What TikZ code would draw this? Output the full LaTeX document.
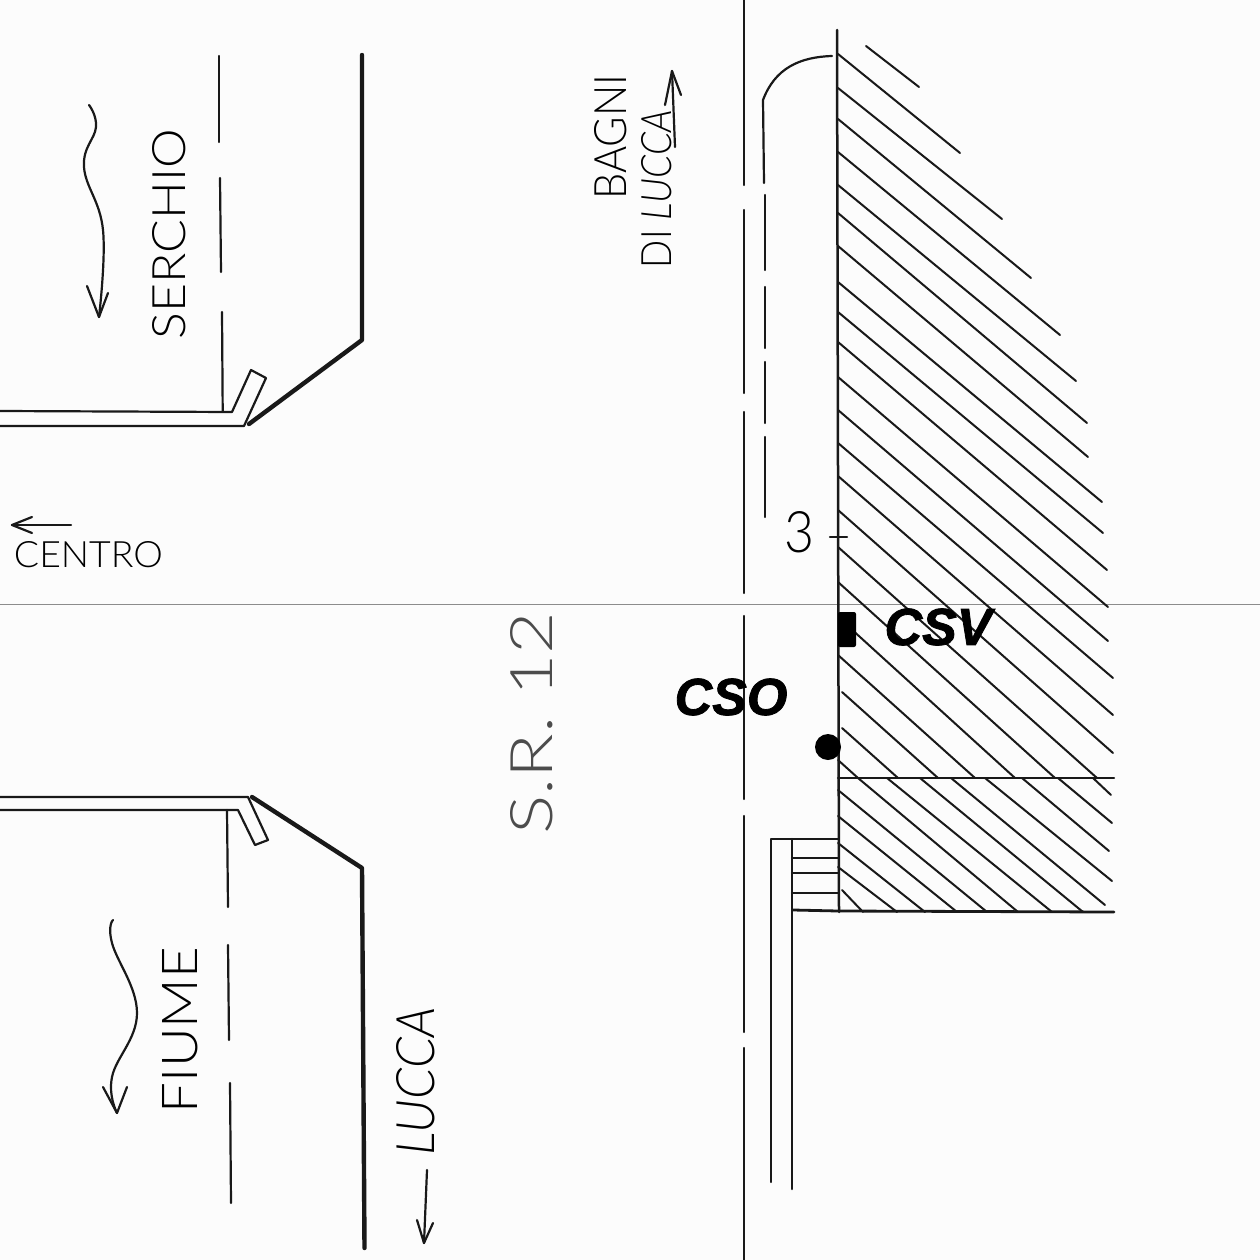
\documentclass[tikz,border=0pt]{standalone}
\usepackage{fontspec}
\usepackage{graphicx}
\setmainfont{Liberation Sans}[BoldItalicFeatures={FakeBold=1.6}]
\newfontfamily\hand{Lato}[UprightFont=* Light,ItalicFont=* Light Italic]
\newcommand{\fitbox}[3]{\resizebox{#1pt}{#2pt}{\fontsize{40}{40}\selectfont\hand #3}}
\tikzset{
  thin ink/.style={line width=2.2pt,black!90,line cap=round,line join=round},
  hatch ink/.style={line width=2pt,black!90,line cap=round},
  thick ink/.style={line width=4.4pt,black!90,line cap=round,line join=round},
  handtext/.style={inner sep=0pt,text=black},
  sensorlabel/.style={inner sep=0pt,font=\fontsize{52}{52}\selectfont\bfseries\itshape,text=black}
}
\begin{document}
\begin{tikzpicture}[x=1pt,y=-1pt]
\useasboundingbox (0,0) rectangle (1260,1260);
\fill[white!99!black] (0,0) rectangle (1260,1260);
% fold line
\draw[line width=0.9pt,black!45] (0,604) -- (1260,604);

% upper hatching
\foreach \ax/\ay/\bx/\by in {
 866/46/919/87, 838/54/960/153, 838/88/1002/219, 838/119/1031/278,
 838/152/1060/335, 838/185/1076/381, 838/213/1087/423, 838/246/1088/457,
 838/282/1102/502, 838/312/1103/533, 838/342/1107/570, 838/377/1108/607,
 838/410/1108/641, 838/443/1113/678, 838/476/1113/715, 838/510/1113/753,
 838/547/1097/778, 838/582/1055/778, 838/617/1015/778, 838/655/975/778,
 842/692/938/778, 842/728/898/778, 838/760/858/778}
  \draw[hatch ink] (\ax,\ay) -- (\bx,\by);
% lower hatching
\foreach \ax/\ay/\bx/\by in {
 858/778/1018/912, 887/778/1052/912, 920/778/1083/912, 951/778/1105/905,
 985/778/1112/881, 1022/778/1109/851, 1058/778/1112/823, 1093/778/1111/795,
 838/790/987/912, 838/816/957/912, 838/843/925/912, 838/867/897/912, 842/890/863/912}
  \draw[hatch ink] (\ax,\ay) -- (\bx,\by);

% building edges
\draw[thin ink,line width=2.5pt] (837,30) -- (839,912);
\draw[thin ink] (838,778) -- (1114,778);
\draw[thin ink,line width=2.8pt] (793,910) -- (838,911) -- (1114,912);

% stairs and side road
\draw[thin ink] (771,1182) -- (771,839) -- (838,839);
\draw[thin ink,line width=2.5pt] (792,1189) -- (792,839);
\foreach \ry in {858,873,893}
  \draw[thin ink] (792,\ry) -- (838,\ry);

% road centre line
\foreach \ya/\yb in {0/185,210/393,412/593,616/799,816/1032,1048/1260}
  \draw[thin ink] (744,\ya) -- (744,\yb);
% road edge, dashed by hand
\draw[thin ink] (832,56) .. controls (800,57) and (775,68) .. (763,100) -- (764,183);
\foreach \ya/\yb in {195/270,287/348,362/423,437/517}
  \draw[thin ink] (765,\ya) -- (765,\yb);

% kilometre mark
\node[handtext] (three) at (799.5,532.5) {\fitbox{30}{41}{3}};
\draw[thin ink] (830,537) -- (847,537);

% sensors
\node[fill=black,rounded corners=2pt,minimum width=18pt,minimum height=35pt,inner sep=0pt] (csvmark) at (847,629.5) {};
\node[fill=black,circle,minimum size=26pt,inner sep=0pt] (csomark) at (828,747) {};
\node[sensorlabel] (csv) at (938,627) {CSV};
\node[sensorlabel] (cso) at (731,697) {CSO};

% upper river bank
\draw[thin ink] (219,56) -- (219,142);
\draw[thin ink] (220,178) -- (221,272);
\draw[thin ink] (222,312) -- (222.7,411);
\draw[thin ink] (0,411) -- (232,412) -- (251,370) -- (266,378) -- (244,426) -- (0,426);
\draw[thick ink] (362,55) -- (362,340) -- (249,424);

% lower river bank
\draw[thin ink] (0,797) -- (248,797) -- (268,840) -- (255,845) -- (238,810) -- (0,810);
\draw[thin ink] (227,810) -- (228,907);
\draw[thin ink] (228,945) -- (229,1040);
\draw[thin ink] (230,1083) -- (231,1203);
\draw[thick ink] (252,797) -- (362,868) -- (364.5,1248);

% river flow arrows
\draw[thin ink] plot[smooth,tension=.7] coordinates {(89,105) (96,127) (84,167) (103,230) (99,317)};
\draw[thin ink] (87,286) -- (99,317) -- (108,293);
\draw[thin ink] plot[smooth,tension=.7] coordinates {(113,920) (112,943) (137,1013) (112,1077) (117,1113)};
\draw[thin ink] (103,1087) -- (117,1113) -- (127,1087);

% direction arrows
\draw[thin ink] (71,525) -- (12,525);
\draw[thin ink] (32,517) -- (12,525) -- (32,533);
\draw[thin ink] (675,147) -- (672,71);
\draw[thin ink] (665,105) -- (672,71) -- (681,95);
\draw[thin ink] (427,1170) -- (424,1243);
\draw[thin ink] (417,1220) -- (424,1243) -- (433,1223);

% handwritten labels
\node[handtext,rotate=90] (serchio) at (169,234) {\fitbox{210}{33}{SERCHIO}};
\node[handtext,rotate=90] (fiume) at (180.5,1030) {\fitbox{166}{35}{FIUME}};
\node[handtext,rotate=90] (lucca) at (416,1081) {\fitbox{148}{38}{\itshape LUCCA}};
\node[handtext,rotate=90] (bagni) at (611,137) {\fitbox{125}{32}{BAGNI}};
\node[handtext,rotate=90] (dilucca) at (657,189) {\fitbox{158}{30}{DI {\itshape LUCCA}}};
\node[handtext,rotate=90,text=black!70] (sr) at (532,723) {\fitbox{223}{42}{S.R. 12}};
\node[handtext] (centro) at (88.5,555) {\fitbox{149}{26}{CENTRO}};
\end{tikzpicture}
\end{document}
